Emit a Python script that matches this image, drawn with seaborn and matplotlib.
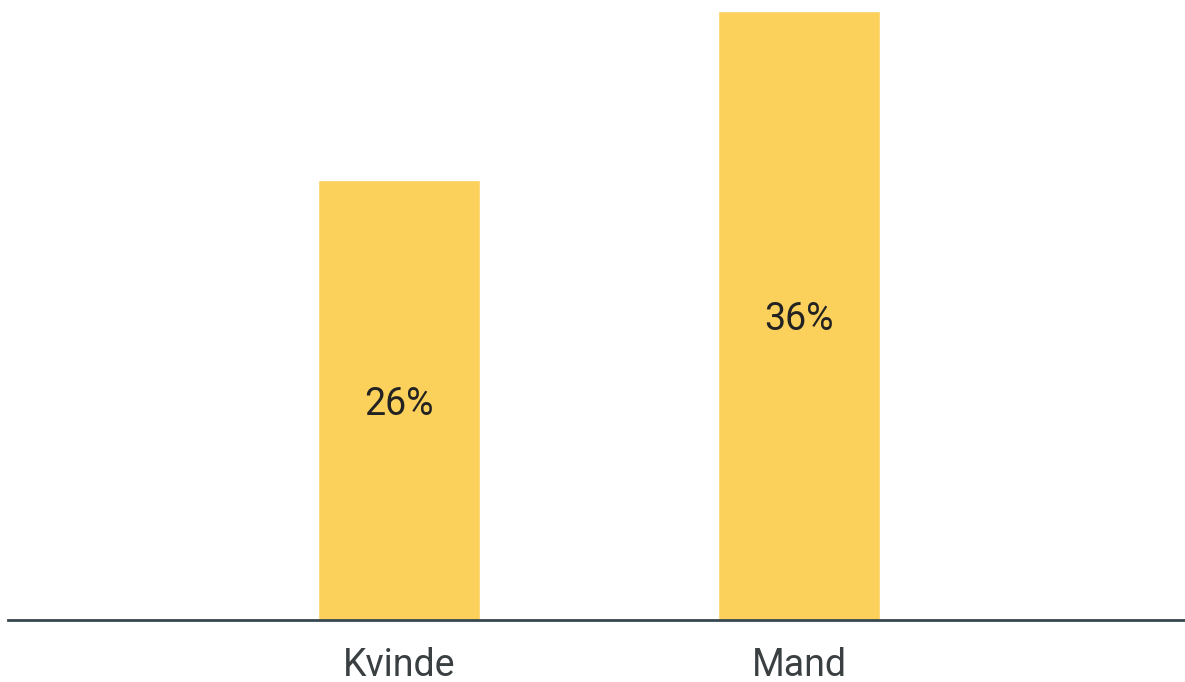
import matplotlib
matplotlib.use("Agg")
import matplotlib.pyplot as plt
import seaborn as sns
import pandas as pd

categories = ["Kvinde", "Mand"]
values = [26, 36]

sns.set_style("white")
plt.rcParams["font.family"] = ["Roboto", "DejaVu Sans"]

df = pd.DataFrame({"køn": categories, "andel": values})

fig = plt.figure(figsize=(11.85, 6.82), dpi=100)
ax = fig.add_axes([8 / 1185, 62 / 682, 1 - 8 / 1185, 609 / 682])

sns.barplot(data=df, x="køn", y="andel", color="#FCD15B", width=0.405,
            saturation=1, ax=ax)

# procent midt i søjlen
for i, v in enumerate(values):
    ax.annotate(f"{v}%", (i, v / 2), xytext=(0, -3), textcoords="offset points",
                ha="center", va="center", fontsize=27, color="#222222")

ax.set_xlim(-0.9775, 1.965)
ax.set_ylim(0, 36)
ax.set_xlabel("")
ax.set_ylabel("")
ax.set_yticks([])
ax.tick_params(axis="x", length=0, pad=19.5, labelsize=27, labelcolor="#3a3f42")

for side in ["top", "right", "left"]:
    ax.spines[side].set_visible(False)
ax.spines["bottom"].set_color("#37474F")
ax.spines["bottom"].set_linewidth(2)

fig.savefig("out.png", dpi=100)
